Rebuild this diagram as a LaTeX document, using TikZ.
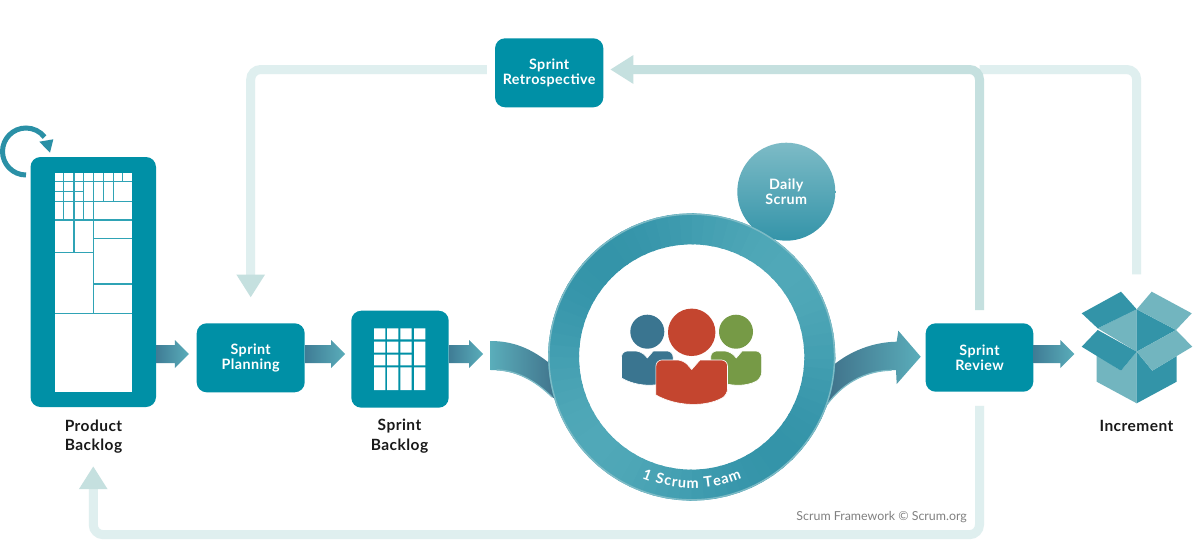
\documentclass[tikz,border=0pt]{standalone}
\usepackage{fontspec}
\setmainfont{Lato}[LetterSpace=3]
\newfontfamily\creditfont{Lato}
\usetikzlibrary{arrows.meta,calc,decorations.text}
\definecolor{boxc}{HTML}{0090A6}
\definecolor{gridc}{HTML}{2FA3B5}
\definecolor{loopdark}{HTML}{C5E0DF}
\definecolor{looplight}{HTML}{DFEFEF}
\definecolor{flowdark}{HTML}{3F7C95}
\definecolor{flowlight}{HTML}{5AADBA}
\definecolor{swdark}{HTML}{3D6B85}
\definecolor{ringdark}{HTML}{3494A9}
\definecolor{ringlight}{HTML}{50A8B8}
\definecolor{ringedge}{HTML}{7DBBC6}
\definecolor{pblue}{HTML}{3A7590}
\definecolor{pgreen}{HTML}{769A46}
\definecolor{pred}{HTML}{C4452F}
\definecolor{cubedark}{HTML}{3394A8}
\definecolor{cubelight}{HTML}{72B5BF}
\definecolor{labelc}{HTML}{1A1A1A}
\definecolor{loopc}{HTML}{2A90A6}
\newcommand\ringfont{\bfseries\fontsize{14.5}{14.5}\selectfont}
\newcommand\flowarrow[3]{%
  \path[flowshade] let \p1=(#1.east|-flowline), \p2=(#2.west|-flowline) in
    (\x1,\y1+9pt) -- (\x2-#3-14pt,\y1+9pt) -- (\x2-#3-14pt,\y1+14pt) -- (\x2-#3,\y1)
    -- (\x2-#3-14pt,\y1-14pt) -- (\x2-#3-14pt,\y1-9pt) -- (\x1,\y1-9pt) -- cycle;}
% centre x, top y, half width, notch half width, notch depth, side height, bottom height, colour
\newcommand\personbody[8]{%
  \begin{scope}[shift={(#1,#2)}]
    \fill[#8,draw=white,line width=.6pt,rounded corners=6pt] (-#3,#6) -- (-#3,0) -- (-#4,0) [sharp corners] -- (0,#5) -- (#4,0)
      [rounded corners=6pt] -- (#3,0) -- (#3,#6) [sharp corners]
      .. controls (0.4*#3,#7) and (-0.4*#3,#7) .. (-#3,#6) -- cycle;
  \end{scope}}
\tikzset{
  box/.style={fill=boxc,rounded corners=10pt,inner sep=0pt,align=center,text=white,
    font=\bfseries\fontsize{14.3}{15}\selectfont},
  flowshade/.style={left color=flowdark,right color=flowlight},
  caption/.style={align=center,text=labelc,font=\bfseries\fontsize{15.5}{19.5}\selectfont},
  looplightline/.style={draw=looplight,line width=9pt,rounded corners=10pt},
  loopdarkline/.style={draw=loopdark,line width=9pt,rounded corners=10pt},
  loophead/.style={-{Triangle[length=23pt,width=27pt,color=loopdark]}},
  gridline/.style={draw=gridc,line width=1.2pt},
}
\begin{document}
\begin{tikzpicture}[x=1pt,y=-1pt]
\useasboundingbox (0,0) rectangle (1200,552);
\fill[white] (0,0) rectangle (1200,552);
\coordinate (flowline) at (0,354);

% nodes
\node[box,minimum width=125.5pt,minimum height=250pt] (pb) at (93.25,282) {};
\node[box,minimum width=108pt,minimum height=69pt] (plan) at (250.7,357.8) {Sprint\\Planning};
\node[box,minimum width=97.4pt,minimum height=97pt] (sb) at (400,359.2) {};
\node[box,minimum width=108.3pt,minimum height=69pt] (retro) at (549.2,72.8) {Sprint\\Retrospective};
\node[box,minimum width=107.6pt,minimum height=68.4pt] (review) at (979.5,357.5) {Sprint\\Review};
\node[inner sep=0pt,minimum width=111pt,minimum height=112pt] (inc) at (1136.7,347.5) {};
\node[inner sep=0pt,minimum size=0pt] (swin) at (490.7,354) {};
\node[circle,inner sep=0pt,minimum size=287pt] (team) at (691.7,357) {};

% feedback loops
\coordinate (junction) at (review.north |- 0,69.5);
\coordinate (botleft) at (pb.south |- 0,534.7);
\draw[looplightline] ([yshift=17pt]inc.north) |- (junction);
\draw[loopdarkline,loophead,shorten <=13pt,shorten >=6.7pt] (review.north) |- ([yshift=3.3pt]retro.east);
\draw[looplightline,loophead,shorten <=8pt,shorten >=25.6pt] ([yshift=3.3pt]retro.west) -| (plan.north);
\draw[looplightline,loophead,shorten <=14pt,shorten >=59pt] (review.south) |- (botleft) -- (pb.south);

% product backlog grid
\fill[white] (55,173) rectangle (132,392);
\foreach \xa/\ya/\yb in {63.7/173/220, 74/173/252.3, 83.7/173/220, 93.7/173/313.3, 103.5/173/201.3, 113.3/173/201.3, 122.8/173/181.7}
  \draw[gridline] (\xa,\ya) -- (\xa,\yb);
\foreach \ya/\xa/\xb in {181.7/55/132, 191.7/55/83.7, 201.3/55/132, 220/55/132, 238.3/93.7/132, 252.3/55/93.7, 284/93.7/132, 313.3/55/132}
  \draw[gridline] (\xa,\ya) -- (\xb,\ya);
\node[caption] at (93.5,436.5) {Product\\Backlog};

% backlog refinement loop
\draw[draw=loopc,line width=5pt] (26,175) arc (90:322:23.5);
\fill[loopc] (39.3,141.7) -- (53.3,139.3) -- (50,152.7) -- cycle;

% sprint backlog grid
\fill[white] (374,328.3) rectangle (385.3,339.3) (387,328.3) rectangle (398.3,339.3)
  (400.3,328.3) rectangle (411.7,339.3) (414,328.3) rectangle (425.3,339.3);
\fill[white] (374,341.7) rectangle (385.3,352.7) (387,341.7) rectangle (398.3,352.7)
  (400.3,341.7) rectangle (411.7,352.7) (414,341.7) rectangle (425.3,365.3);
\fill[white] (374,354.7) rectangle (385.3,365.3) (387,354.7) rectangle (398.3,365.3)
  (400.3,354.7) rectangle (411.7,365.3);
\fill[white] (374,367.3) rectangle (385.3,390) (387,367.3) rectangle (398.3,390)
  (400.3,367.3) rectangle (411.7,390) (414,367.3) rectangle (425.3,390);
\node[caption] at (399.5,436) {Sprint\\Backlog};

% straight flows
\flowarrow{pb}{plan}{7.7pt}
\flowarrow{plan}{sb}{6pt}
\flowarrow{sb}{swin}{7.4pt}
\flowarrow{review}{inc}{6.7pt}

% daily scrum
\path[shade,shading angle=45,top color=ringedge,middle color=ringlight,bottom color=ringdark] (786.3,191.7) ++(90:49) arc (90:450:49) -- cycle;
\node[circle,inner sep=0pt,minimum size=98pt,
  text=white,align=center,font=\bfseries\fontsize{14.3}{15}\selectfont] (daily) at (786.3,191.7) {Daily\\Scrum};

% swooshes into and out of the ring
\begin{scope}[shift={(team.center)}]
  \path[left color=flowlight,right color=swdark] (-201,-16) .. controls (-176.7,-16) and (-156.7,-7) .. (-136.7,11)
    -- (-126.7,48) -- (-139.7,40) .. controls (-156.7,23) and (-176.7,13) .. (-201,13) -- cycle;
  \draw[ringedge,line width=1.2pt] (-139.7,40) .. controls (-156.7,23) and (-176.7,13) .. (-195,13);
  \path[left color=swdark,right color=flowlight] (138.3,11) .. controls (158.3,-7) and (183.3,-15) .. (205,-15.3)
    -- (206.6,-26.3) -- (229,-0.3) -- (205,27) -- (204.3,13) .. controls (178.3,13) and (153.3,23) .. (135,48)
    -- (125,48) -- cycle;
  \draw[ringedge,line width=1.2pt] (200,13.3) .. controls (178.3,13.3) and (153.3,23) .. (135,48);
\end{scope}

% ring
\fill[white] (team.center) circle (113);
\foreach \a in {0,5,...,355}{
  \pgfmathtruncatemacro\m{50-50*cos(2*(\a-45))}
  \draw[color=ringlight!\m!ringdark,line width=31pt] (team.center) ++(\a:128.1) arc (\a:\a+6:128.1);
}
\draw[ringedge,line width=1.4pt] (team.center) circle (142.8);
\path[decorate,decoration={text effects along path,text={1 Scrum Team},text align=center,
  text effects/.cd,text along path,
  character widths={font=\ringfont,inner xsep=0.45pt},
  characters={text=white,font=\ringfont,inner xsep=0pt,inner ysep=0pt,anchor=base}}]
  (team.center) ++(120:131) arc (120:60:131);

% people
\fill[pblue] (647.3,331.7) circle (17);
\personbody{647.3}{351}{25.8}{6}{7}{27}{36}{pblue}
\fill[pgreen] (736,331.7) circle (17);
\personbody{736.2}{351}{25.5}{6}{7}{27}{36}{pgreen}
\fill[pred] (691.7,332.3) circle (23.7);
\personbody{691.7}{360}{35.8}{8.3}{9.5}{35}{47}{pred}

% increment box
\fill[cubelight] (1096.7,355) -- (1121,370.7) -- (1136.7,351.7) -- (1136.7,403.3) -- (1096.7,381.7) -- cycle;
\fill[cubedark] (1136.7,351.7) -- (1152.3,370.7) -- (1176.7,356) -- (1176.7,381.7) -- (1136.7,403.3) -- cycle;
\fill[cubelight] (1097.7,328.3) -- (1136.7,309.3) -- (1136.7,351.7) -- cycle;
\fill[cubedark] (1136.7,309.3) -- (1176,330) -- (1136.7,351.7) -- cycle;
\fill[cubedark] (1081.7,313.3) -- (1121,291.7) -- (1136.7,309.3) -- (1097.7,328.3) -- cycle;
\fill[cubelight] (1151.7,291.7) -- (1191.7,313.3) -- (1176,330) -- (1136.7,309.3) -- cycle;
\fill[cubedark] (1097.7,330) -- (1136.7,351.7) -- (1121,370.7) -- (1081.7,346.7) -- cycle;
\fill[cubelight] (1176,330) -- (1192.3,346.7) -- (1152.3,370.7) -- (1136.7,351.7) -- cycle;
\node[caption] at (1136.5,425.5) {Increment};

% credit
\node[anchor=east,text=black!50,inner sep=0pt,font=\creditfont\fontsize{12.4}{13}\selectfont] (credit) at (967,517) {Scrum Framework © Scrum.org};
\end{tikzpicture}
\end{document}
